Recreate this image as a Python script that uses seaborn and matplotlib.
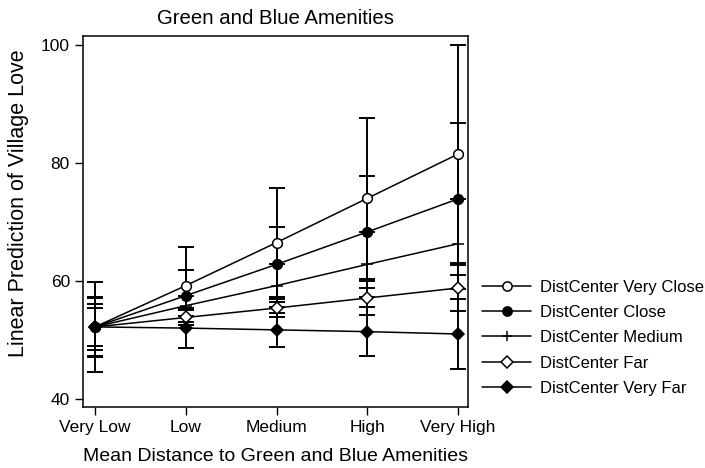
import numpy as np
import pandas as pd
import matplotlib
matplotlib.use("Agg")
import matplotlib.pyplot as plt
import seaborn as sns

# categories on the x axis
levels = ["Very Low", "Low", "Medium", "High", "Very High"]
series = ["DistCenter Very Close", "DistCenter Close", "DistCenter Medium",
          "DistCenter Far", "DistCenter Very Far"]

# predicted means
very_close = [52.2, 59.2, 66.5, 74.0, 81.5]
close = [52.2, 57.5, 62.8, 68.3, 73.9]
medium = [52.2, 55.8, 59.2, 62.8, 66.3]
far = [52.2, 53.8, 55.4, 57.1, 58.8]
very_far = [52.2, 52.0, 51.7, 51.4, 51.0]

# half width of the 95% CI
very_close_ci = [7.6, 6.6, 9.2, 13.6, 18.5]
close_ci = [5.1, 4.4, 6.3, 9.5, 12.9]
medium_ci = [3.9, 1.7, 3.6, 5.5, 7.6]
far_ci = [3.2, 1.2, 1.5, 2.9, 3.9]
very_far_ci = [4.9, 3.4, 2.9, 4.1, 6.0]

means = [very_close, close, medium, far, very_far]
cis = [very_close_ci, close_ci, medium_ci, far_ci, very_far_ci]

rows = []
for name, m, c in zip(series, means, cis):
    for i, lev in enumerate(levels):
        rows.append({"pos": i, "level": lev, "series": name, "y": m[i], "ci": c[i]})
df = pd.DataFrame(rows)

sns.set_style("white")
plt.rcParams["font.family"] = ["Liberation Sans", "DejaVu Sans"]
plt.rcParams["text.color"] = "black"
plt.rcParams["axes.labelcolor"] = "black"
plt.rcParams["xtick.color"] = "black"
plt.rcParams["ytick.color"] = "black"

# marker style per series (stata-like)
styles = {
    "DistCenter Very Close": dict(marker="o", mfc="white", ms=7, mew=1.1),
    "DistCenter Close": dict(marker="o", mfc="black", ms=7, mew=1.1),
    "DistCenter Medium": dict(marker="+", mfc="black", ms=8, mew=1.1),
    "DistCenter Far": dict(marker="D", mfc="white", ms=6.5, mew=1.1),
    "DistCenter Very Far": dict(marker="D", mfc="black", ms=6.5, mew=1.1),
}

fig = plt.figure(figsize=(7.05, 4.68), dpi=100)
ax = fig.add_axes([0.118, 0.130, 0.546, 0.793])

# confidence intervals first, lines and markers on top
for name in series:
    sub = df[df["series"] == name]
    ax.errorbar(sub["pos"], sub["y"], yerr=sub["ci"], fmt="none",
                ecolor="black", elinewidth=1.4, capsize=6, capthick=1.4, zorder=2)

for name in series:
    sub = df[df["series"] == name]
    sns.lineplot(data=sub, x="pos", y="y", ax=ax, color="black", lw=1.1,
                 mec="black", label=name, zorder=3, **styles[name])

ax.set_xlim(-0.13, 4.11)
ax.set_ylim(38.6, 101.5)
ax.set_xticks(range(len(levels)))
ax.set_xticklabels(levels)
ax.set_yticks([40, 60, 80, 100])
ax.tick_params(axis="both", labelsize=12.5, length=6, width=1, color="black",
               direction="out", bottom=True, left=True)
for s in ax.spines.values():
    s.set_color("black")
    s.set_linewidth(1.1)

ax.set_title("Green and Blue Amenities", fontsize=14.7, pad=9)
ax.set_xlabel("Mean Distance to Green and Blue Amenities", fontsize=14, labelpad=9)
ax.set_ylabel("Linear Prediction of Village Love", fontsize=15.5, labelpad=8)
ax.yaxis.set_label_coords(-0.14, 0.55)

handles, labels = ax.get_legend_handles_labels()
ax.legend(handles, labels, loc="center left", bbox_to_anchor=(1.02, 0.187),
          frameon=False, fontsize=12, handlelength=2.9, labelspacing=0.62,
          borderaxespad=0, handletextpad=0.55, markerscale=0.95)

fig.savefig("out.png", dpi=100)
